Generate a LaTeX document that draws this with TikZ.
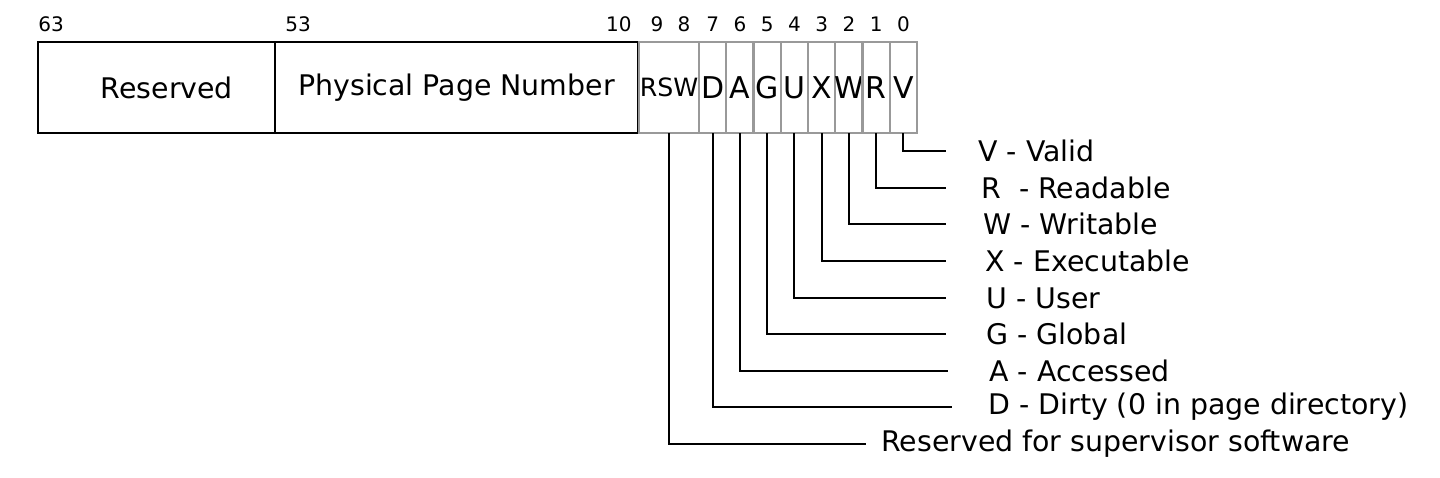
\documentclass[tikz,border=0pt]{standalone}
\usepackage{fontspec}
\setmainfont{DejaVu Sans}
\usepackage{tikz}
\usetikzlibrary{positioning}
\colorlet{bitFrame}{gray!80}

\tikzset{
  field/.style={
    draw=black,
    line width=0.75pt,
    minimum height=45.5pt,
    inner sep=0pt,
    outer sep=0pt,
    font=\fontsize{14.2}{17}\selectfont
  },
  bit/.style={
    draw=bitFrame,
    line width=1.2pt,
    minimum width=13.625pt,
    minimum height=45.5pt,
    inner xsep=-1pt,
    inner ysep=0pt,
    outer sep=0pt,
    font=\fontsize{15}{18}\selectfont
  },
  num/.style={
    inner sep=0pt,
    font=\fontsize{10}{12}\selectfont
  },
  lead/.style={
    line width=1pt
  },
  flag/.style={
    inner sep=0pt,
    font=\fontsize{14.2}{17}\selectfont
  }
}

\begin{document}
\begin{tikzpicture}[x=0.5pt,y=-0.5pt]
\useasboundingbox (0,0) rectangle (1440,477);
% the entry
\node[field,anchor=north west,minimum width=118.5pt,text width=76.5pt,align=right] (res) at (38,42) {Reserved};
\node[field,right=0pt of res,minimum width=181.5pt] (ppn) {Physical Page Number};
\node[bit,right=0.5pt of ppn,minimum width=30pt,font=\fontsize{12.6}{15}\selectfont] (rsw) {RSW};
\node[bit,right=0pt of rsw] (d) {D};
\node[bit,right=0pt of d] (a) {A};
\node[bit,right=0pt of a] (g) {G};
\node[bit,right=0pt of g] (u) {U};
\node[bit,right=0pt of u] (x) {X};
\node[bit,right=0pt of x] (w) {W};
\node[bit,right=0pt of w] (r) {R};
\node[bit,right=0pt of r] (v) {V};
% bit numbers
\node[num,anchor=south west] (n63) at (38,32) {63};
\node[num,anchor=south west] (n53) at (285,32) {53};
\node[num,anchor=south east] (n10) at (632,32) {10};
\node[num,anchor=south] (n9) at (657,32) {9};
\node[num,anchor=south] (n8) at (684,32) {8};
\node[num,above=5pt of d.north] (n7) {7};
\node[num,above=5pt of a.north] (n6) {6};
\node[num,above=5pt of g.north] (n5) {5};
\node[num,above=5pt of u.north] (n4) {4};
\node[num,above=5pt of x.north] (n3) {3};
\node[num,above=5pt of w.north] (n2) {2};
\node[num,above=5pt of r.north] (n1) {1};
\node[num,above=5pt of v.north] (n0) {0};
% leader ends
\coordinate (ev) at (946,151);
\coordinate (er) at (946,188);
\coordinate (ew) at (946,224);
\coordinate (ex) at (946,261);
\coordinate (eu) at (946,298);
\coordinate (eg) at (946,334);
\coordinate (ea) at (948,371);
\coordinate (ed) at (952,407);
\coordinate (ersw) at (866,444);
% meanings
\node[flag,right=16pt of ev] (lv) {V - Valid};
\node[flag,right=17.5pt of er] (lr) {R\ \ - Readable};
\node[flag,right=18.5pt of ew] (lw) {W - Writable};
\node[flag,right=19.5pt of ex] (lx) {X - Executable};
\node[flag,right=20pt of eu] (lu) {U - User};
\node[flag,right=20pt of eg] (lg) {G - Global};
\node[flag,right=20.5pt of ea] (la) {A - Accessed};
\node[flag,right=18pt of ed] (ld) {D - Dirty (0 in page directory)};
\node[flag,right=7.5pt of ersw] (lrsw) {Reserved for supervisor software};
% leaders
\draw[lead] (v.south) |- (ev);
\draw[lead] (r.south) |- (er);
\draw[lead] (w.south) |- (ew);
\draw[lead] (x.south) |- (ex);
\draw[lead] (u.south) |- (eu);
\draw[lead] (g.south) |- (eg);
\draw[lead] (a.south) |- (ea);
\draw[lead] (d.south) |- (ed);
\draw[lead] (rsw.south) |- (ersw);
\end{tikzpicture}
\end{document}
